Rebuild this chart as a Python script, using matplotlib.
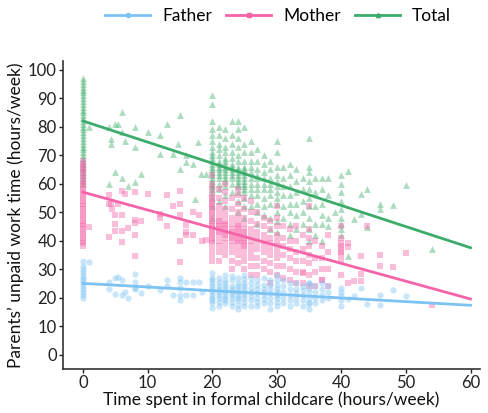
import matplotlib
matplotlib.use('Agg')
import numpy as np
import matplotlib.pyplot as plt
from matplotlib.lines import Line2D

plt.rcParams['font.family'] = ['Lato', 'DejaVu Sans']

# colours
c_father = '#7cc3f4'
c_mother = '#f564a8'
c_total = '#3cac6b'

# ---- data ----
# stacked columns (x = hours of childcare, list of y values)
col_x = [20, 21, 22, 23, 24, 25, 26, 27, 28, 29, 30, 31, 32, 33, 34, 35, 36, 37, 38, 40]

total_x0 = [60, 61, 62, 63, 64, 65, 66, 67, 68, 69, 70, 71, 72, 73, 74, 75, 76, 77, 78, 79,
            80, 81, 82, 83, 84, 85, 86, 87, 88, 89, 90, 91, 92, 93, 94, 95, 96, 97]
mother_x0 = [38, 39, 40, 41, 42, 43, 44, 45, 46, 47, 48, 49, 50, 51, 52, 53, 54, 55, 56, 57,
             58, 59, 60, 61, 62, 63, 64, 65, 66, 67, 68]
father_x0 = [20, 21, 22, 23, 24, 25, 26, 27, 28, 29, 30, 31, 33]

total_cols = [
    [48, 52, 55, 57, 58, 59, 60, 61, 62, 63, 64, 65, 66, 67, 68, 69, 70, 71, 73, 75, 77, 79, 82, 88, 91],
    [54, 58, 60, 62, 63, 64, 65, 66, 67, 68, 70, 72, 74, 77, 80],
    [52, 56, 59, 61, 62, 63, 64, 65, 66, 67, 68, 69, 71, 73, 76, 79],
    [57, 60, 62, 63, 64, 65, 66, 67, 69, 71, 74, 77, 82],
    [50, 54, 57, 59, 60, 61, 62, 63, 64, 65, 66, 68, 70, 73, 76, 79, 82],
    [48, 52, 55, 57, 58, 59, 60, 61, 62, 63, 64, 65, 66, 68, 71, 74, 80],
    [52, 56, 58, 60, 62, 64, 66, 68, 71, 75],
    [46, 50, 53, 56, 58, 60, 62, 63, 65, 68, 72],
    [49, 52, 55, 58, 60, 62, 64, 67, 70],
    [44, 48, 53, 56, 58, 60, 62, 65, 68],
    [43, 47, 50, 53, 55, 57, 59, 61, 63, 66, 71, 75],
    [48, 52, 56, 59, 62, 66],
    [42, 46, 50, 53, 56, 59, 63, 67],
    [44, 49, 53, 57, 61, 65],
    [46, 50, 54, 58, 62],
    [40, 44, 48, 52, 55, 58, 61, 64, 66, 76],
    [42, 46, 52, 57, 62],
    [40, 46, 49, 53, 58, 62],
    [45, 48, 56, 62],
    [42, 44, 46, 48, 51, 54, 57, 60, 63],
]
mother_cols = [
    [33, 35, 37, 39, 40, 41, 42, 43, 44, 45, 46, 47, 48, 49, 50, 51, 52, 53, 54, 55, 56, 58, 60, 63],
    [33, 36, 38, 40, 42, 43, 44, 45, 46, 47, 48, 50, 52, 55, 58],
    [35, 37, 39, 41, 42, 43, 44, 45, 46, 47, 49, 51, 54, 57, 60],
    [30, 33, 36, 38, 40, 41, 42, 43, 44, 46, 48, 51, 55],
    [32, 35, 37, 39, 40, 41, 42, 43, 44, 45, 46, 48, 50, 53, 56, 58],
    [30, 33, 35, 37, 38, 39, 40, 41, 42, 43, 44, 46, 48, 51, 55],
    [28, 31, 34, 36, 38, 40, 42, 44, 47, 50, 54],
    [28, 31, 34, 37, 39, 41, 43, 46, 50],
    [30, 33, 36, 38, 40, 42, 45, 48],
    [25, 29, 32, 35, 37, 39, 41, 44, 47],
    [28, 31, 34, 36, 38, 40, 42, 45, 48, 52],
    [27, 31, 35, 38, 41, 45],
    [26, 30, 34, 37, 40, 44],
    [25, 29, 33, 36, 40, 45],
    [25, 29, 33, 37, 42],
    [24, 28, 32, 35, 38, 41, 44, 52],
    [24, 29, 34, 40],
    [26, 30, 34, 38],
    [24, 30, 36, 42],
    [28, 33, 35, 36, 37, 38, 39, 41, 45],
]
father_cols = [
    [16.5, 18, 19, 20, 21, 22, 23, 24, 25, 26, 27, 28.5],
    [17, 18.5, 20, 21, 22, 23, 24, 25.5, 27],
    [18, 19, 20, 21, 22, 23, 24, 25, 26, 28],
    [17, 18.5, 20, 21, 22, 23, 24, 26, 27.5],
    [16, 17.5, 19, 20, 21, 22, 23, 24, 25, 27],
    [17, 18.5, 20, 21, 22, 23, 24, 25, 26.5, 28],
    [17, 19, 20.5, 22, 23.5, 25, 27],
    [17, 18.5, 20, 21.5, 23, 24.5, 26],
    [18, 19.5, 21, 22, 23, 24.5, 27],
    [16, 18, 20, 21.5, 23, 24.5, 26],
    [17, 18.5, 20, 21, 22, 23, 24.5, 26, 28],
    [18, 20, 22, 24, 26],
    [17, 19, 21, 23, 25],
    [18, 20, 21.5, 23, 25],
    [17, 19, 21, 22.5, 24],
    [16, 18, 20, 22, 23.5, 25],
    [18, 20, 22, 24],
    [19, 21, 23, 25],
    [20, 22, 24],
    [17, 19, 20.5, 22, 23.5],
]

# scattered single points
total_sx = [1, 4, 5, 5.5, 6, 6, 8, 10, 12, 13, 15, 4.4, 4.4, 6.5, 8, 12, 14, 14.7, 16, 16, 17,
            17.8, 15, 18.3, 19, 4, 5, 6, 9, 8, 7, 17.3, 41, 50, 54, 48, 46, 46, 44, 43, 43, 42,
            41, 44, 39]
total_sy = [80, 80, 81, 81, 85, 78, 80, 78, 77, 81, 84, 75.7, 74, 75, 73, 70.5, 70.5, 74, 70, 67.5, 67,
            74.5, 65, 63.5, 63.5, 60, 64, 62, 63.5, 60.7, 59, 54.7, 64.5, 59.6, 37, 52.6, 53, 51, 58, 56.5, 49.5, 47.7,
            34.7, 44.7, 50]

mother_sx = [1, 4, 4.5, 5.4, 5, 6, 5, 5, 6, 7, 4, 6, 8, 8, 9, 8, 8, 12, 12, 13, 14, 15, 15, 15, 15,
             16, 16, 16, 17, 17, 18, 18.4, 19, 4, 6, 6.5, 8, 10, 13, 15, 4.4,
             44, 43, 46, 46, 48, 50, 42, 43, 41, 41, 41, 54, 34, 37, 43]
mother_sy = [44.7, 53, 51, 53, 49, 49, 46, 43.5, 43.5, 44.5, 41.4, 39.4, 47.4, 46.3, 47, 42, 34.5, 49.5, 47.8, 45, 52, 53, 49, 40, 32.4,
             45.6, 43, 42, 50, 42, 49, 40, 40.3, 56, 57.5, 56.5, 57, 56.5, 56, 57.5, 53,
             45, 34.7, 35, 31, 30.6, 35.5, 25.7, 25.7, 25, 39, 37.6, 17.5, 28.8, 26, 28.4]

father_sx = [1, 4, 4, 5, 5.5, 6, 5, 6, 6.5, 7, 8, 8, 8, 8, 9, 10, 12, 13, 13, 14,
             15, 15, 15, 15, 15, 16, 16, 17, 17, 18, 18.4,
             44, 46, 46, 48, 50, 42, 43, 41, 35, 35]
father_sy = [32.4, 25.3, 23, 26.8, 27.1, 26, 21.4, 21, 21.8, 19.8, 28.3, 25.3, 23.4, 23, 21.7, 24, 22.5, 26, 24, 21,
             27, 25.5, 23.4, 21, 19.2, 25.3, 20.9, 25.4, 21, 25.5, 22,
             17.8, 21, 17.4, 22.5, 20.5, 20.7, 23.5, 19.5, 25, 18]

# fitted lines, value at x=0 and at x=60
fit_x = [0, 60]
total_fit = [82, 37.5]
mother_fit = [57, 19.5]
father_fit = [25, 17.3]


def collect(x0_vals, cols, sx, sy):
    xs = [0] * len(x0_vals)
    ys = list(x0_vals)
    for cx, vals in zip(col_x, cols):
        xs += [cx] * len(vals)
        ys += vals
    return xs + sx, ys + sy


fig = plt.figure(figsize=(4.88, 4.13), dpi=100)
ax = fig.add_axes([0.129, 0.107, 0.855, 0.745])

tx, ty = collect(total_x0, total_cols, total_sx, total_sy)
mx, my = collect(mother_x0, mother_cols, mother_sx, mother_sy)
fx, fy = collect(father_x0, father_cols, father_sx, father_sy)

ax.scatter(tx, ty, marker='^', s=24, color=c_total, alpha=0.42, linewidths=0)
ax.scatter(mx, my, marker='s', s=18, color=c_mother, alpha=0.42, linewidths=0)
ax.scatter(fx, fy, marker='o', s=20, color=c_father, alpha=0.42, linewidths=0)

ax.plot(fit_x, total_fit, color=c_total, lw=2)
ax.plot(fit_x, mother_fit, color=c_mother, lw=2)
ax.plot(fit_x, father_fit, color=c_father, lw=2)

ax.set_xlim(-3.1, 61.5)
ax.set_ylim(-5, 103)
ax.set_xticks([0, 10, 20, 30, 40, 50, 60])
ax.set_yticks(range(0, 101, 10))
ax.tick_params(labelsize=12, colors='#222222', length=3, width=1, pad=1.5)
for s in ['top', 'right']:
    ax.spines[s].set_visible(False)
for s in ['left', 'bottom']:
    ax.spines[s].set_color('#333333')
    ax.spines[s].set_linewidth(1.2)

ax.set_xlabel('Time spent in formal childcare (hours/week)', fontsize=12.5, labelpad=0, color='#111111')
ax.set_ylabel('Parents\u2019 unpaid work time (hours/week)', fontsize=12.5, labelpad=3, color='#111111')

handles = [
    Line2D([], [], color=c_father, lw=2, marker='o', ms=3),
    Line2D([], [], color=c_mother, lw=2, marker='s', ms=3),
    Line2D([], [], color=c_total, lw=2, marker='^', ms=3),
]
fig.legend(handles, ['Father', 'Mother', 'Total'], loc='center', bbox_to_anchor=(0.57, 0.962),
           ncol=3, frameon=False, fontsize=12.5, handlelength=2.6, columnspacing=0.8, handletextpad=0.7)

fig.savefig('out.png', dpi=100)
